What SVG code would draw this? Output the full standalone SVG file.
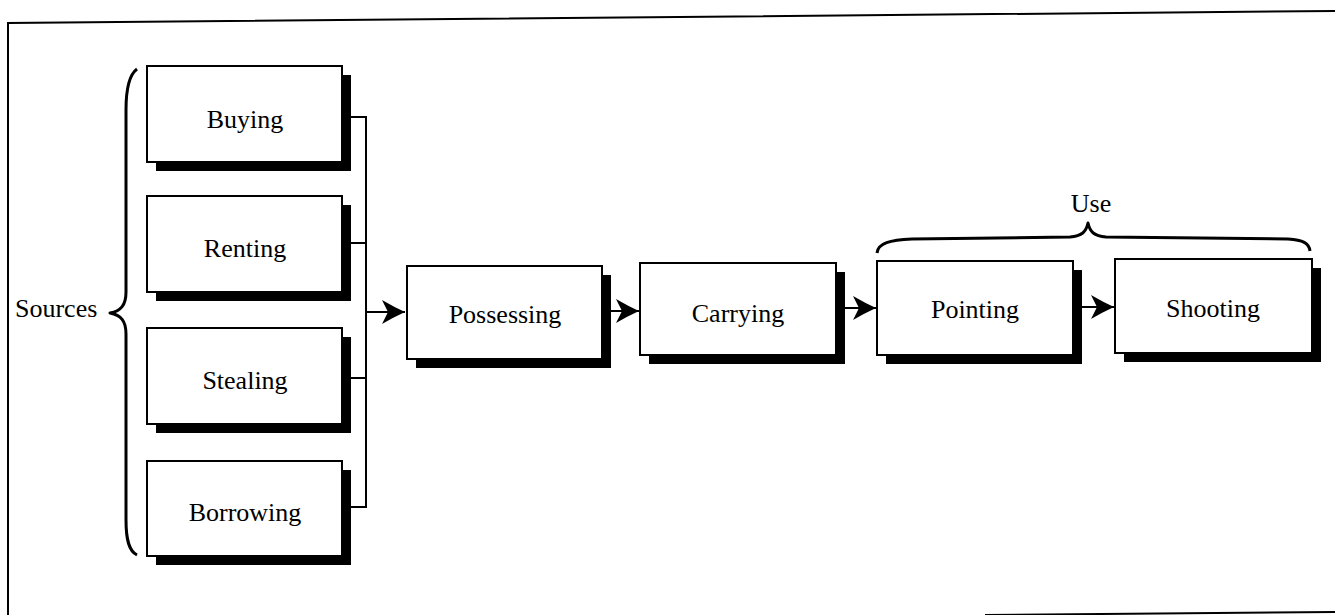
<svg xmlns="http://www.w3.org/2000/svg" width="1335" height="615" viewBox="0 0 1335 615">
<style>
.box{fill:#fff;stroke:#000;stroke-width:2}
.sh{fill:#000}
.lbl{font-family:"Liberation Serif","Times New Roman",serif;font-size:26px;fill:#000;text-anchor:middle}
.ln{fill:none;stroke:#000;stroke-width:2}
.br{fill:none;stroke:#000;stroke-width:3;stroke-linejoin:round}
</style>
<defs>
<marker id="ah" markerUnits="userSpaceOnUse" markerWidth="24" markerHeight="26" viewBox="0 0 24 26" refX="23" refY="13" orient="auto">
<path d="M0,1 Q12,8 23,13 Q12,18 0,25 L6,13 Z" fill="#000"/>
</marker>
</defs>
<rect width="1335" height="615" fill="#fff"/>
<g id="frame">
<path class="ln" d="M8,615 V23 L1335,11"/>
<path class="ln" d="M985,615 L1335,612"/>
</g>
<g id="sources-brace">
<path class="br" d="M137,69 C129,75 126,90 126,110 L126,292 C126,305 121,311 110,313 C121,315 126,321 126,334 L126,520 C126,540 129,551 137,555"/>
<text class="lbl" x="15" y="317" style="text-anchor:start">Sources</text>
</g>
<g id="use-brace">
<path class="br" d="M877,253 C878,243 890,240 912,239 L1070,237 C1082,236 1086,232 1088,223 C1090,232 1094,236 1106,237 L1288,239 C1303,240 1309,243 1310,251"/>
<text class="lbl" x="1091" y="212">Use</text>
</g>
<g id="connectors">
<path class="ln" d="M351,117 H366 M351,243 H366 M351,378 H366 M351,507 H366 M366,116 V508"/>
<path class="ln" d="M366,312 H405" marker-end="url(#ah)"/>
<path class="ln" d="M611,311 H639" marker-end="url(#ah)"/>
<path class="ln" d="M845,308 H876" marker-end="url(#ah)"/>
<path class="ln" d="M1082,307 H1114" marker-end="url(#ah)"/>
</g>
<g id="buying">
<rect class="sh" x="156" y="75" width="195" height="96"/>
<rect class="box" x="147" y="66" width="195" height="96"/>
<text class="lbl" x="245" y="128">Buying</text>
</g>
<g id="renting">
<rect class="sh" x="156" y="205" width="195" height="96"/>
<rect class="box" x="147" y="196" width="195" height="96"/>
<text class="lbl" x="245" y="257">Renting</text>
</g>
<g id="stealing">
<rect class="sh" x="156" y="337" width="195" height="96"/>
<rect class="box" x="147" y="328" width="195" height="96"/>
<text class="lbl" x="245" y="389">Stealing</text>
</g>
<g id="borrowing">
<rect class="sh" x="156" y="470" width="195" height="95"/>
<rect class="box" x="147" y="461" width="195" height="95"/>
<text class="lbl" x="245" y="521">Borrowing</text>
</g>
<g id="possessing">
<rect class="sh" x="416" y="275" width="195" height="93"/>
<rect class="box" x="407" y="266" width="195" height="93"/>
<text class="lbl" x="505" y="323">Possessing</text>
</g>
<g id="carrying">
<rect class="sh" x="649" y="272" width="196" height="92"/>
<rect class="box" x="640" y="263" width="196" height="92"/>
<text class="lbl" x="738" y="322">Carrying</text>
</g>
<g id="pointing">
<rect class="sh" x="886" y="270" width="196" height="94"/>
<rect class="box" x="877" y="261" width="196" height="94"/>
<text class="lbl" x="975" y="318">Pointing</text>
</g>
<g id="shooting">
<rect class="sh" x="1124" y="268" width="197" height="94"/>
<rect class="box" x="1115" y="259" width="197" height="94"/>
<text class="lbl" x="1213" y="317">Shooting</text>
</g>
</svg>
